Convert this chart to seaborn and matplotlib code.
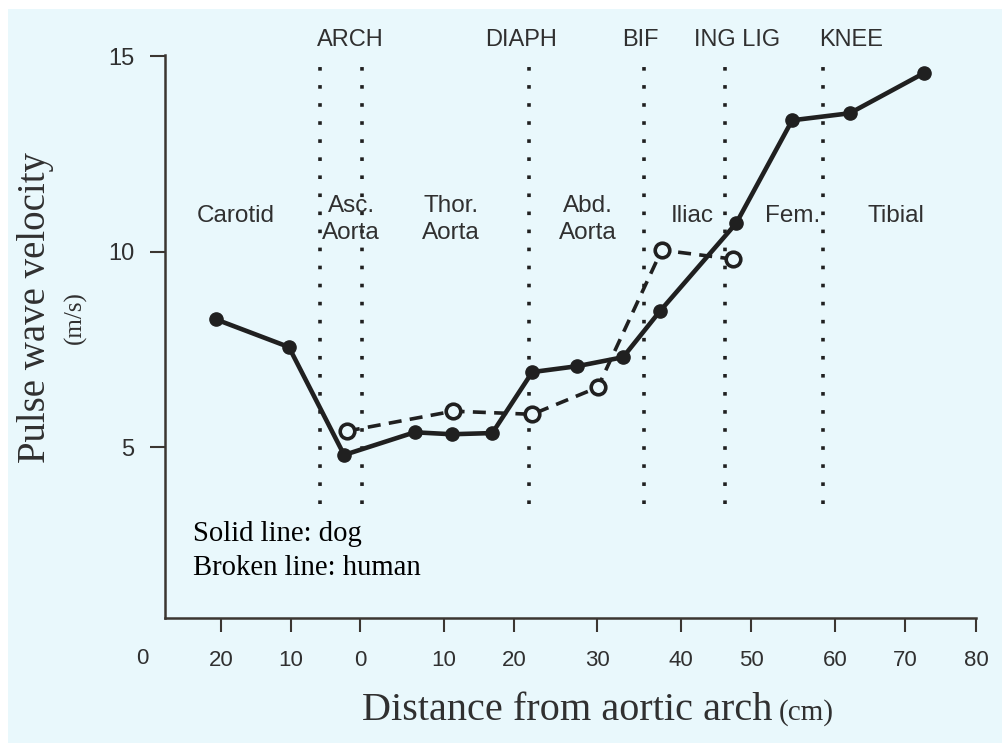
import numpy as np
import pandas as pd
import matplotlib
matplotlib.use("Agg")
import matplotlib.pyplot as plt
from matplotlib.patches import Rectangle
import seaborn as sns

# ---- data -------------------------------------------------------------
# distance from the aortic arch in cm (carotid side negative), PWV in m/s
dog_distance = [-20.7, -10.3, -2.3, 6.5, 11.1, 16.9, 22.2, 27.6, 33.1, 37.5, 47.9, 54.9, 62.1, 72.7]
dog_velocity = [8.27, 7.56, 4.80, 5.38, 5.33, 5.36, 6.92, 7.07, 7.30, 8.48, 10.73, 13.36, 13.54, 14.57]

human_distance = [-1.9, 11.3, 22.2, 30.1, 37.7, 47.4]
human_velocity = [5.41, 5.92, 5.84, 6.53, 10.04, 9.81]

# anatomical landmarks (dotted verticals)
landmark_distance = [-5.8, 0.2, 21.8, 35.6, 46.3, 58.6]
landmark_names = ["ARCH", "DIAPH", "BIF", "ING LIG", "KNEE"]
landmark_label_x = [-1.4, 20.8, 35.2, 48.0, 62.3]

# arterial segments
segment_names = ["Carotid", "Asc.\nAorta", "Thor.\nAorta", "Abd.\nAorta", "Iliac", "Fem.", "Tibial"]
segment_label_x = [-17.9, -1.3, 11.0, 28.9, 41.6, 54.9, 68.7]
segment_label_y = [10.9, 10.82, 10.82, 10.82, 10.92, 10.92, 10.92]

x_tick_values = [-20, -10, 0, 10, 20, 30, 40, 50, 60, 70, 80]
x_tick_labels = ["20", "10", "0", "10", "20", "30", "40", "50", "60", "70", "80"]
y_tick_values = [5, 10, 15]

# hand-drawn ruler of the distance axis: cm value -> drawn position
ruler_cm = [-30, -20, -10, 0, 10, 20, 30, 40, 50, 60, 70, 80, 90]
ruler_pos = [146, 221, 291, 360, 444, 514, 597, 681, 751, 835, 905, 976, 1046]

# ---- style ------------------------------------------------------------
BG = "#e9f8fc"
INK = "#202020"
TEXT = "#303030"
sns.set_style("ticks")
plt.rcParams["font.family"] = ["Liberation Sans", "DejaVu Sans"]
SERIF = ["Liberation Serif", "DejaVu Serif"]

W, H = 1003, 743
fig = plt.figure(figsize=(W / 100, H / 100), dpi=100)
fig.patch.set_facecolor("white")
fig.add_artist(Rectangle((8 / W, 0), 1, (H - 9) / H, transform=fig.transFigure,
                         facecolor=BG, edgecolor="none", zorder=-5))

ax = fig.add_axes([165 / W, (H - 618) / H, 811 / W, 563 / H])
ax.patch.set_visible(False)


def fx(px):
    return px / W


def fy(py):
    return (H - py) / H


dog = pd.DataFrame({"distance": dog_distance, "velocity": dog_velocity})
human = pd.DataFrame({"distance": human_distance, "velocity": human_velocity})

ax.vlines(landmark_distance, 3.55, 14.9, colors=INK, linestyles=(0, (1, 4)),
          linewidth=2.6, zorder=1)

sns.lineplot(data=dog, x="distance", y="velocity", ax=ax, color=INK,
             linewidth=3.3, marker="o", markersize=9.5, markeredgecolor=INK,
             markeredgewidth=1, markerfacecolor=INK, errorbar=None,
             sort=False, zorder=3)
sns.lineplot(data=human, x="distance", y="velocity", ax=ax, color=INK,
             linewidth=2.6, linestyle=(0, (3.6, 2.3)), marker="o",
             markersize=10.5, markerfacecolor=BG, markeredgecolor=INK,
             markeredgewidth=2.6, errorbar=None, sort=False, zorder=4)


def to_ruler(x):
    return np.interp(x, ruler_cm, ruler_pos)


def from_ruler(p):
    return np.interp(p, ruler_pos, ruler_cm)


ax.set_xscale("function", functions=(to_ruler, from_ruler))
ax.set_xlim(from_ruler(165), 80)
ax.set_ylim(0.63, 15.03)

ax.set_xticks(x_tick_values)
ax.set_xticklabels(x_tick_labels)
ax.set_yticks(y_tick_values)
ax.set_yticklabels([str(v) for v in y_tick_values])
ax.minorticks_off()
ax.set_xlabel("")
ax.set_ylabel("")

for side in ("top", "right"):
    ax.spines[side].set_visible(False)
for side in ("left", "bottom"):
    ax.spines[side].set_color("#3b3631")
    ax.spines[side].set_linewidth(1.8)

ax.tick_params(axis="x", length=10, width=1.5, pad=13, labelsize=16,
               color="#3b3631", labelcolor=TEXT)
ax.tick_params(axis="y", length=10.8, width=1.5, pad=11, labelsize=17,
               color="#3b3631", labelcolor=TEXT)

# origin label at the corner
fig.text(fx(142), fy(659), "0", ha="center", va="center", fontsize=16, color=TEXT)

# landmark names above the dotted lines
xform = ax.get_xaxis_transform()
for name, x in zip(landmark_names, landmark_label_x):
    ax.text(x, (618 - 40) / 563, name, transform=xform, ha="center", va="center",
            fontsize=17, color=TEXT, clip_on=False)

# segment names
for name, x, y in zip(segment_names, segment_label_x, segment_label_y):
    ax.text(x, y, name, ha="center", va="center", fontsize=17.5, color=TEXT,
            linespacing=1.3, zorder=5)

# key
fig.text(fx(193), fy(541), "Solid line: dog", ha="left", va="baseline",
         fontsize=20.6, family=SERIF, color="black")
fig.text(fx(193), fy(575), "Broken line: human", ha="left", va="baseline",
         fontsize=20.6, family=SERIF, color="black")

# axis titles
xlab = fig.text(fx(362), fy(720), "Distance from aortic arch", ha="left",
                va="baseline", fontsize=29, family=SERIF, color=TEXT)
fig.canvas.draw()
xlab_end = xlab.get_window_extent().x1
fig.text((xlab_end + 6) / W, fy(720), "(cm)", ha="left", va="baseline",
         fontsize=21, family=SERIF, color=TEXT)
fig.text(fx(36), fy(308), "Pulse wave velocity", rotation=90, ha="center",
         va="center", fontsize=28, family=SERIF, color=TEXT)
fig.text(fx(75), fy(318), "(m/s)", rotation=90, ha="center", va="center",
         fontsize=18, family=SERIF, color=TEXT)

fig.savefig("out.png", dpi=100, facecolor=fig.get_facecolor())
